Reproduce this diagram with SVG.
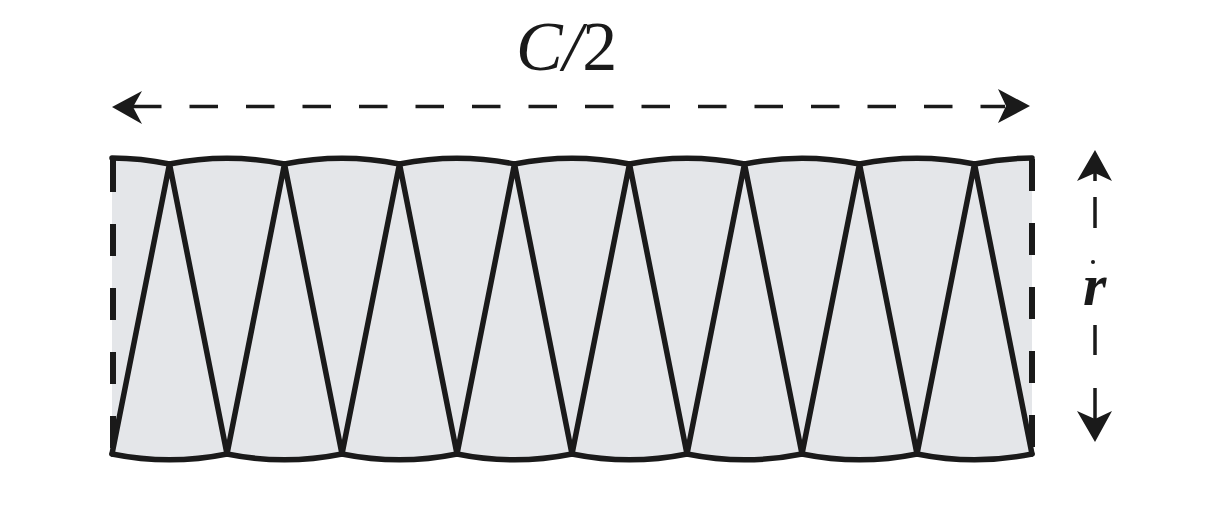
<svg xmlns="http://www.w3.org/2000/svg" width="1210" height="508" viewBox="0 0 1210 508">
<defs>
<style>
.ln{fill:none;stroke:#1a1a1a;stroke-width:5.5;stroke-linejoin:round;stroke-linecap:round}
.side{fill:none;stroke:#1a1a1a;stroke-width:6;stroke-dasharray:32 32}
.dim{fill:none;stroke:#1a1a1a;stroke-width:3.5}
.head{fill:#1a1a1a}
.lbl{font-family:"Liberation Serif",serif;fill:#1a1a1a}
</style>
</defs>
<rect width="1210" height="508" fill="#ffffff"/>
<g id="strip">
<path fill="#e4e6e9" d="M112,158 A290,290 0 0 1 169.5,164 A290,290 0 0 1 284.5,164 A290,290 0 0 1 399.5,164 A290,290 0 0 1 514.5,164 A290,290 0 0 1 629.5,164 A290,290 0 0 1 744.5,164 A290,290 0 0 1 859.5,164 A290,290 0 0 1 974.5,164 A290,290 0 0 1 1032,158 L1032,454 A290,290 0 0 1 917,454 A290,290 0 0 1 802,454 A290,290 0 0 1 687,454 A290,290 0 0 1 572,454 A290,290 0 0 1 457,454 A290,290 0 0 1 342,454 A290,290 0 0 1 227,454 A290,290 0 0 1 112,454 Z"/>
<path class="ln" d="M112,158 A290,290 0 0 1 169.5,164 A290,290 0 0 1 284.5,164 A290,290 0 0 1 399.5,164 A290,290 0 0 1 514.5,164 A290,290 0 0 1 629.5,164 A290,290 0 0 1 744.5,164 A290,290 0 0 1 859.5,164 A290,290 0 0 1 974.5,164 A290,290 0 0 1 1032,158"/>
<path class="ln" d="M112,454 A290,290 0 0 0 227,454 A290,290 0 0 0 342,454 A290,290 0 0 0 457,454 A290,290 0 0 0 572,454 A290,290 0 0 0 687,454 A290,290 0 0 0 802,454 A290,290 0 0 0 917,454 A290,290 0 0 0 1032,454"/>
<polyline class="ln" points="112,454 169.5,164 227,454 284.5,164 342,454 399.5,164 457,454 514.5,164 572,454 629.5,164 687,454 744.5,164 802,454 859.5,164 917,454 974.5,164 1032,454"/>
<line class="side" x1="113" y1="160" x2="113" y2="454"/>
<line class="side" x1="1032" y1="159" x2="1032" y2="454"/>
</g>
<g id="connectors">
<line class="dim" x1="133" y1="106.5" x2="1005" y2="106.5" stroke-dasharray="28.5 28"/>
<path class="head" d="M112,107 L142,91 L133,107 L142,124 Z"/>
<path class="head" d="M1030,106 L998,89 L1006,106 L998,123 Z"/>
<line class="dim" x1="1095" y1="172" x2="1095" y2="181"/>
<line class="dim" x1="1095" y1="197" x2="1095" y2="228"/>
<circle cx="1093" cy="262" r="2" fill="#1a1a1a"/>
<line class="dim" x1="1095" y1="325" x2="1095" y2="355"/>
<line class="dim" x1="1095" y1="388" x2="1095" y2="425"/>
<path class="head" d="M1095,150 L1112,181 L1095,173 L1077,181 Z"/>
<path class="head" d="M1095,442 L1112,411 L1095,419 L1077,411 Z"/>
</g>
<g id="labels">
<text class="lbl" x="516" y="70" font-size="70"><tspan font-style="italic">C/</tspan>2</text>
<text class="lbl" x="1083" y="305" font-size="60" font-style="italic" font-weight="bold">r</text>
</g>
</svg>
